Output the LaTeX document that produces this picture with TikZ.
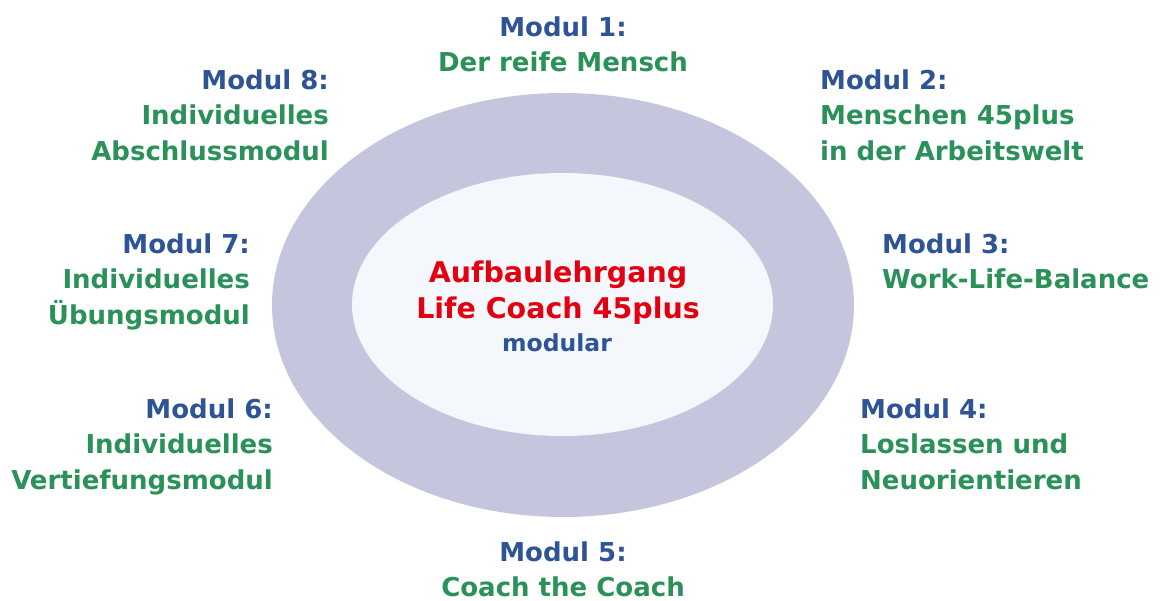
\documentclass[tikz,border=0pt]{standalone}
\usepackage{fontspec}
\setmainfont{DejaVu Sans}
\definecolor{ringcol}{HTML}{C5C6DE}
\definecolor{innercol}{HTML}{F4F8FC}
\definecolor{modblue}{HTML}{2F5496}
\definecolor{modgreen}{HTML}{2A9158}
\definecolor{titlered}{HTML}{E3000F}
\tikzset{
  modtext/.style={inner sep=0pt, font=\bfseries\fontsize{26}{35.5}\selectfont, text=modgreen},
  lefttext/.style={modtext, align=left, anchor=north west},
  righttext/.style={modtext, align=right, anchor=north east},
  midtext/.style={modtext, align=center, anchor=north},
}
\newcommand{\modhead}[1]{\textcolor{modblue}{#1}}
\begin{document}
\begin{tikzpicture}[x=1pt,y=-1pt]
\useasboundingbox (0,0) rectangle (1164,601);
\fill[white] (0,0) rectangle (1164,601);
\fill[ringcol] (563,305) ellipse [x radius=291pt, y radius=212pt];
\fill[innercol] (562.5,304.5) ellipse [x radius=210.5pt, y radius=131.5pt];
\node[inner sep=0pt, align=center, anchor=north, font=\bfseries\fontsize{28.5}{36}\selectfont, text=titlered] (title) at (558,260.5) {Aufbaulehrgang\\Life Coach 45plus};
\node[inner sep=0pt, anchor=base, font=\bfseries\fontsize{23.5}{28}\selectfont, text=modblue] (sub) at (557,352) {modular};
\node[midtext] (m1) at (563,16.5) {\modhead{Modul 1:}\\Der reife Mensch};
\node[lefttext] (m2) at (820,69.5) {\modhead{Modul 2:}\\Menschen 45plus\\in der Arbeitswelt};
\node[lefttext] (m3) at (882,233.5) {\modhead{Modul 3:}\\Work-Life-Balance};
\node[lefttext] (m4) at (860,398.5) {\modhead{Modul 4:}\\Loslassen und\\Neuorientieren};
\node[midtext] (m5) at (563,541.5) {\modhead{Modul 5:}\\Coach the Coach};
\node[righttext] (m6) at (273,398.5) {\modhead{Modul 6:}\\Individuelles\\Vertiefungsmodul};
\node[righttext] (m7) at (250,233.5) {\modhead{Modul 7:}\\Individuelles\\Übungsmodul};
\node[righttext] (m8) at (329,69.5) {\modhead{Modul 8:}\\Individuelles\\Abschlussmodul};
\end{tikzpicture}
\end{document}
